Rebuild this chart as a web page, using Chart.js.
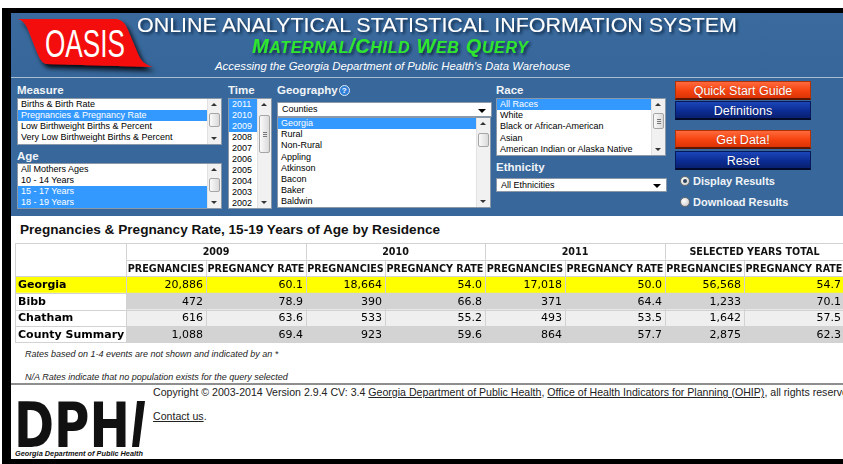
<!DOCTYPE html>
<html><head><meta charset="utf-8">
<title>OASIS - Maternal/Child Web Query</title>
<script src="https://cdn.jsdelivr.net/npm/chart.js@4.4.1/dist/chart.umd.min.js"></script>
<style>
*{box-sizing:border-box}
html,body{margin:0;padding:0;background:#fff;overflow:hidden}
body{width:843px;height:464px;position:relative;font-family:"Liberation Sans",Arial,sans-serif}
.a{position:absolute}
.lbl{position:absolute;color:#f0f4f8;font-weight:bold;font-size:11.5px;line-height:14px;white-space:nowrap}
.box{position:absolute;background:#fff;border:1px solid #8a98a8;overflow:hidden}
.it{position:absolute;left:0;font-size:9px;color:#000;white-space:nowrap;padding-left:3px}
.it.sel{background:#3399ff;color:#fff}
.sb{position:absolute;top:0;right:0;bottom:0;width:14px;background:#f1f1f1;border-left:1px solid #e2e2e2}
.thumb{position:absolute;left:1px;width:11px;background:linear-gradient(90deg,#fafafa,#dadada);border:1px solid #a5a5a5;border-radius:2px}
.grip{position:absolute;left:3px;width:4px;height:1px;background:#777}
.up,.dn{position:absolute;left:3px;width:0;height:0;border-left:3px solid transparent;border-right:3px solid transparent}
.up{top:4px;border-bottom:3px solid #333}
.dn{bottom:4px;border-top:3px solid #333}
.dd{position:absolute;background:#fff;border:1px solid #8a98a8;font-size:9px;padding-left:4px;white-space:nowrap;color:#000}
.dd .arr{position:absolute;right:5px;top:50%;margin-top:-1px;width:0;height:0;border-left:4px solid transparent;border-right:4px solid transparent;border-top:4px solid #000}
.btn{position:absolute;left:675px;width:136px;height:19px;color:#fff;font-size:12.5px;line-height:18px;text-align:center;white-space:nowrap;text-shadow:0 0 1px rgba(0,0,0,.3)}
.or{background:linear-gradient(#ff6a3c,#f5420f 55%,#dc3406);border:1px solid #b33205;border-bottom:2px solid #5a1600}
.nv{background:linear-gradient(#1c46b8,#0c2c94 55%,#08206f);border:1px solid #06195a;border-bottom:2px solid #020a2c}
.rad{position:absolute;width:10px;height:10px;border-radius:50%;background:radial-gradient(circle at 35% 35%,#fff,#c4c4c4);border:1px solid #6d6d6d}
.rad.on::after{content:"";position:absolute;left:2px;top:2px;width:4px;height:4px;border-radius:50%;background:#2a3f5a}
.rtxt{position:absolute;left:693px;color:#f0f4f8;font-weight:bold;font-size:11px;line-height:14px;white-space:nowrap}
.fn{position:absolute;left:25px;font-size:9px;font-style:italic;color:#222;line-height:12px;white-space:nowrap}
.foot{position:absolute;left:153px;font-size:10.6px;color:#222;line-height:14px;white-space:nowrap}
.foot u{text-decoration:underline}
</style></head>
<body>
<!-- frame -->
<div class="a" style="left:2px;top:8px;width:841px;height:5px;background:#000"></div>
<div class="a" style="left:2px;top:8px;width:9px;height:456px;background:#000"></div>
<div class="a" style="left:2px;top:459px;width:841px;height:5px;background:#000"></div>
<!-- header & panel -->
<div class="a" style="left:11px;top:13px;width:832px;height:64px;background:linear-gradient(#3b6b9e,#36669a)"></div>
<div class="a" style="left:11px;top:77px;width:832px;height:1px;background:#a9bdd2"></div>
<div class="a" style="left:11px;top:78px;width:832px;height:138px;background:#38689b"></div>

<svg class="a" style="left:0;top:0" width="843" height="80">
<defs>
<filter id="sh" x="-5%" y="-40%" width="115%" height="190%"><feDropShadow dx="2" dy="2" stdDeviation="1.6" flood-color="#0b1d38" flood-opacity="0.9"/></filter>
<filter id="sh2" x="-10%" y="-20%" width="130%" height="160%"><feDropShadow dx="3" dy="4" stdDeviation="2.5" flood-color="#000" flood-opacity="0.9"/></filter>
</defs>
<path d="M17,19 L115,19 C124,19 127,27 130,35 L138,54 C141,61 145,65 153,67 L47,64 C41,63 39,57 36,50 L29,32 C26,24 23,20 17,19 Z" fill="#f40d0d" filter="url(#sh2)"/>
<text x="45" y="57" font-family="Liberation Sans" font-size="38" fill="#fff" textLength="80" lengthAdjust="spacingAndGlyphs">OASIS</text>
<text x="137" y="32" font-family="Liberation Sans" font-size="21" fill="#fff" textLength="600" lengthAdjust="spacingAndGlyphs" filter="url(#sh)">ONLINE ANALYTICAL STATISTICAL INFORMATION SYSTEM</text>
<text x="252" y="53" font-family="Liberation Sans" font-weight="bold" font-style="italic" fill="#2ee62e" textLength="276" filter="url(#sh)"><tspan font-size="20">M</tspan><tspan font-size="16">ATERNAL</tspan><tspan font-size="20">/C</tspan><tspan font-size="16">HILD</tspan><tspan font-size="20"> W</tspan><tspan font-size="16">EB</tspan><tspan font-size="20"> Q</tspan><tspan font-size="16">UERY</tspan></text>
<text x="215" y="70" font-family="Liberation Sans" font-style="italic" font-size="11" fill="#fff" textLength="355" lengthAdjust="spacingAndGlyphs">Accessing the Georgia Department of Public Health's Data Warehouse</text>
</svg>

<div id="form"></div>

<div class="a" style="left:20px;top:222px;font-weight:bold;font-size:13.6px;line-height:16px;color:#111;white-space:nowrap">Pregnancies &amp; Pregnancy Rate, 15-19 Years of Age by Residence</div>
<canvas id="tbl" class="a" style="left:15px;top:243px" width="829" height="100"></canvas>

<div class="fn" style="top:348px">Rates based on 1-4 events are not shown and indicated by an *</div>
<div class="fn" style="top:371px">N/A Rates indicate that no population exists for the query selected</div>

<div class="a" style="left:11px;top:383px;width:832px;height:2px;background:#8e8e8e"></div>
<div class="foot" style="top:385px">Copyright © 2003-2014 Version 2.9.4 CV: 3.4 <u>Georgia Department of Public Health</u>, <u>Office of Health Indicators for Planning (OHIP)</u>, all rights reserved</div>
<div class="foot" style="top:409px"><u>Contact us</u>.</div>

<svg class="a" style="left:0;top:390px" width="150" height="70">
<text x="14" y="57" font-family="DejaVu Sans" font-weight="bold" font-size="62" fill="#111" textLength="116" lengthAdjust="spacingAndGlyphs">DPH</text>
<path d="M137,11 L145,11 L139,57 L132,57 Z" fill="#111"/>
<text x="15" y="66" font-family="Liberation Sans" font-weight="bold" font-style="italic" font-size="7" fill="#111" textLength="128" lengthAdjust="spacingAndGlyphs">Georgia Department of Public Health</text>
</svg>

<script>
// ---------------- data ----------------
const rowNames = ["Georgia", "Bibb", "Chatham", "County Summary"];
const yearLabels = ["2009", "2010", "2011", "SELECTED YEARS TOTAL"];
const measureLabels = ["PREGNANCIES", "PREGNANCY RATE"];
const pregnancies2009 = [20886, 472, 616, 1088];
const rate2009 = [60.1, 78.9, 63.6, 69.4];
const pregnancies2010 = [18664, 390, 533, 923];
const rate2010 = [54.0, 66.8, 55.2, 59.6];
const pregnancies2011 = [17018, 371, 493, 864];
const rate2011 = [50.0, 64.4, 53.5, 57.7];
const pregnanciesTotal = [56568, 1233, 1642, 2875];
const rateTotal = [54.7, 70.1, 57.5, 62.3];

// form option lists
const measureOptions = ["Births & Birth Rate", "Pregnancies & Pregnancy Rate", "Low Birthweight Births & Percent", "Very Low Birthweight Births & Percent"];
const ageOptions = ["All Mothers Ages", "10 - 14 Years", "15 - 17 Years", "18 - 19 Years"];
const timeOptions = ["2011", "2010", "2009", "2008", "2007", "2006", "2005", "2004", "2003", "2002"];
const geographyOptions = ["Georgia", "Rural", "Non-Rural", "Appling", "Atkinson", "Bacon", "Baker", "Baldwin"];
const raceOptions = ["All Races", "White", "Black or African-American", "Asian", "American Indian or Alaska Native"];

// ---------------- form (page chrome) ----------------
const form = document.getElementById('form');
function el(html){ const d=document.createElement('div'); d.innerHTML=html; while(d.firstChild) form.appendChild(d.firstChild); }
function label(text,x,cy,extra){ el(`<div class="lbl" style="left:${x}px;top:${cy-7}px">${text}${extra||''}</div>`); }
function listBox(x,y,w,h,items,sel,ih,thumbTop,thumbH,grip){
  let s=`<div class="box" style="left:${x}px;top:${y}px;width:${w}px;height:${h}px">`;
  items.forEach((t,i)=>{ s+=`<div class="it${sel.includes(i)?' sel':''}" style="top:${(i*ih).toFixed(1)}px;height:${ih}px;line-height:${ih}px;width:${w-16}px">${t.replace(/&/g,'&amp;')}</div>`; });
  s+=`<div class="sb"><div class="up"></div><div class="thumb" style="top:${thumbTop}px;height:${thumbH}px">`;
  if(grip){ const m=Math.round(thumbH/2)-3; s+=`<div class="grip" style="top:${m}px"></div><div class="grip" style="top:${m+2}px"></div><div class="grip" style="top:${m+4}px"></div>`; }
  s+=`</div><div class="dn"></div></div></div>`;
  el(s);
}
function dropDown(x,y,w,h,text){ el(`<div class="dd" style="left:${x}px;top:${y}px;width:${w}px;height:${h}px;line-height:${h-2}px">${text}<div class="arr"></div></div>`); }

label('Measure',17,90);
listBox(17,98,205,47,measureOptions,[1],11,14,14,false);
label('Age',17,156);
listBox(17,163,205,46,ageOptions,[2,3],11,14,14,false);
label('Time',228,90);
listBox(228,98,44,111,timeOptions,[0,1,2],11,16,38,true);
label('Geography',277,90,'<span style="display:inline-block;width:11px;height:11px;border-radius:50%;background:#2f7fd8;border:1px solid #dfe9f5;color:#fff;font-size:8px;line-height:9px;text-align:center;vertical-align:1px;margin-left:1px">?</span>');
dropDown(277,102,215,15,'Counties');
listBox(277,117,214,91,geographyOptions,[0],11.2,15,14,false);
label('Race',496,90);
listBox(496,98,170,58,raceOptions,[0],11.2,14,16,true);
label('Ethnicity',496,167);
dropDown(496,178,171,14,'All Ethnicities');

el(`<div class="btn or" style="top:81px">Quick Start Guide</div>`);
el(`<div class="btn nv" style="top:101px">Definitions</div>`);
el(`<div class="btn or" style="top:130px">Get Data!</div>`);
el(`<div class="btn nv" style="top:151px">Reset</div>`);
el(`<div class="rad on" style="left:680px;top:176px"></div><div class="rtxt" style="top:174px">Display Results</div>`);
el(`<div class="rad" style="left:680px;top:197px"></div><div class="rtxt" style="top:195px">Download Results</div>`);

// ---------------- results table drawn with Chart.js ----------------
const valueColumns = [pregnancies2009, rate2009, pregnancies2010, rate2010, pregnancies2011, rate2011, pregnanciesTotal, rateTotal];
const rowLabels = ["years", "measures", ...rowNames];
// layout only: width of each table column in px
const colWidths = [111, 80, 100, 79, 100, 80, 100, 79, 100];
const totalW = colWidths.reduce((a,b)=>a+b,0);

function cellColor(r,c){
  if(r<2) return '#ffffff';
  if(r===2) return '#ffff00';
  if(c===0) return '#ffffff';
  return (r===4) ? '#efefef' : '#d3d3d3';
}
function fmt(c,v){ return (c%2===0) ? v.toLocaleString('en-US') : v.toFixed(1); }

const tablePlugin = {
  id:'tableCells',
  afterDatasetsDraw(chart){
    const ctx=chart.ctx;
    const cell=(r,c)=>{ const p=chart.getDatasetMeta(c).data[r].getProps(['x','y','base','height'],true);
      return {l:Math.min(p.x,p.base), r:Math.max(p.x,p.base), t:p.y-p.height/2, b:p.y+p.height/2, cy:p.y}; };
    const nR=rowLabels.length, nC=colWidths.length;
    const snap=v=>Math.round(v)+0.5;
    ctx.save();
    ctx.strokeStyle='#d2d2d2'; ctx.lineWidth=1;
    ctx.beginPath();
    for(let r=1;r<nR;r++){
      const y=snap(cell(r,0).t);
      const x0 = (r===1) ? cell(1,1).l : 0;
      ctx.moveTo(snap(x0),y); ctx.lineTo(chart.width,y);
    }
    for(let r=0;r<nR;r++){
      const a=cell(r,0).t, b=cell(r,0).b;
      for(let c=1;c<nC;c++){
        if(r===0 && c%2===0) continue;
        const x=snap(cell(r,c).l);
        ctx.moveTo(x,a); ctx.lineTo(x,b);
      }
    }
    ctx.stroke();
    ctx.strokeRect(0.5,0.5,chart.width-1,chart.height-1);

    ctx.fillStyle='#111'; ctx.textBaseline='middle';
    // year row
    ctx.font="bold 9.6px 'DejaVu Sans'"; ctx.textAlign='center';
    yearLabels.forEach((t,k)=>{ const a=cell(0,1+2*k), b=cell(0,2+2*k); ctx.fillText(t,(a.l+b.r)/2,a.cy+1); });
    // measure row
    for(let c=1;c<nC;c++){ const e=cell(1,c); ctx.fillText(measureLabels[(c-1)%2],(e.l+e.r)/2,e.cy+1); }
    // body
    for(let i=0;i<rowNames.length;i++){
      const r=i+2;
      const e0=cell(r,0);
      ctx.font="bold 11px 'DejaVu Sans'"; ctx.textAlign='left'; ctx.fillStyle='#000';
      ctx.fillText(rowNames[i],e0.l+3,e0.cy+0.5);
      ctx.font="11px 'DejaVu Sans'"; ctx.textAlign='right';
      valueColumns.forEach((col,k)=>{ const e=cell(r,k+1); ctx.fillText(fmt(k,col[i]),e.r-3,e.cy+0.5); });
    }
    ctx.restore();
  }
};

new Chart(document.getElementById('tbl'), {
  type:'bar',
  data:{
    labels: rowLabels,
    datasets: colWidths.map((w,c)=>({
      label:'col'+c,
      data: rowLabels.map(()=>w),
      backgroundColor: ctx => cellColor(ctx.dataIndex,c),
      borderWidth:0,
      barPercentage:1,
      categoryPercentage:1
    }))
  },
  options:{
    indexAxis:'y',
    responsive:false,
    animation:false,
    events:[],
    layout:{padding:0},
    plugins:{legend:{display:false},tooltip:{enabled:false}},
    scales:{
      x:{stacked:true,min:0,max:totalW,display:false},
      y:{stacked:true,display:false}
    }
  },
  plugins:[tablePlugin]
});
</script>
</body></html>
